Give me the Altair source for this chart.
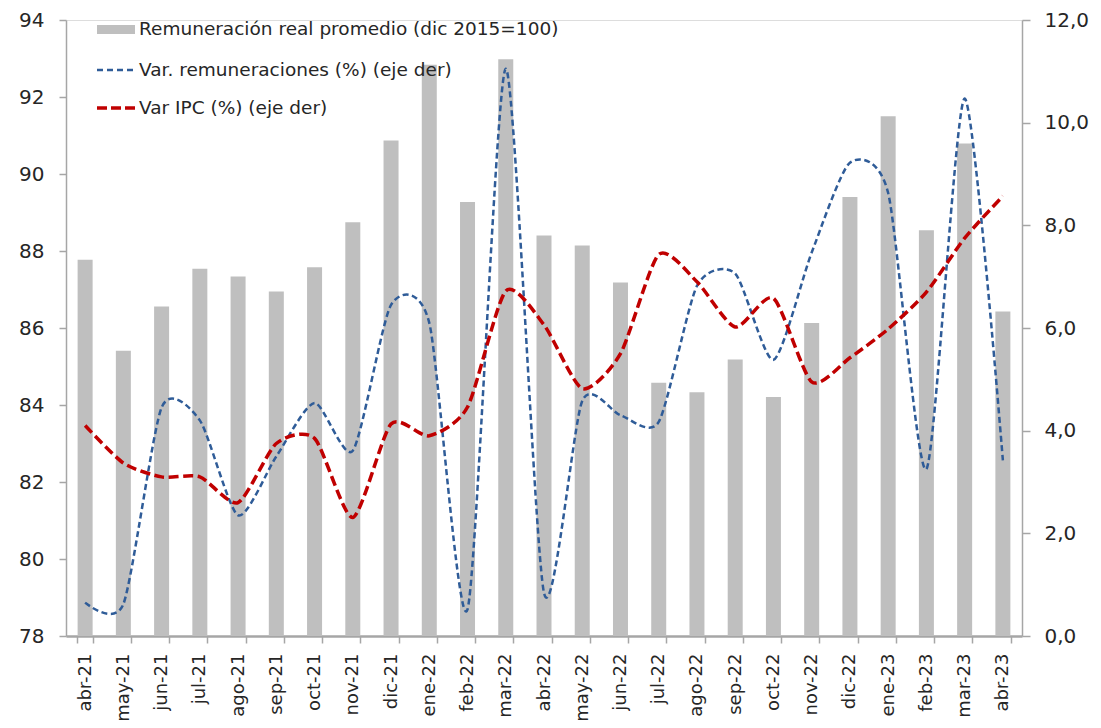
import altair as alt
import pandas as pd

categories = ["abr-21", "may-21", "jun-21", "jul-21", "ago-21", "sep-21", "oct-21", "nov-21",
              "dic-21", "ene-22", "feb-22", "mar-22", "abr-22", "may-22", "jun-22", "jul-22",
              "ago-22", "sep-22", "oct-22", "nov-22", "dic-22", "ene-23", "feb-23", "mar-23", "abr-23"]
remuneracion = [87.77, 85.41, 86.56, 87.54, 87.34, 86.95, 87.58, 88.75, 90.87, 92.84, 89.27, 92.98,
                88.40, 88.14, 87.18, 84.58, 84.33, 85.18, 84.21, 86.13, 89.40, 91.50, 88.54, 90.79, 86.43]
var_remuneraciones = [0.65, 0.62, 4.45, 4.20, 2.35, 3.50, 4.54, 3.61, 6.45, 6.10, 0.52, 11.05,
                      0.84, 4.58, 4.30, 4.17, 6.82, 7.06, 5.38, 7.47, 9.22, 8.63, 3.25, 10.47, 3.42]
var_ipc = [4.10, 3.37, 3.10, 3.10, 2.60, 3.75, 3.85, 2.31, 4.13, 3.90, 4.46, 6.72,
           6.06, 4.82, 5.50, 7.43, 6.90, 6.02, 6.58, 4.95, 5.42, 5.98, 6.70, 7.75, 8.57]
legend_labels = ["Remuneración real promedio (dic 2015=100)",
                 "Var. remuneraciones (%) (eje der)",
                 "Var IPC (%) (eje der)"]

df = pd.DataFrame({"mes": categories, "remu": remuneracion,
                   "vrem": var_remuneraciones, "ipc": var_ipc})

FONT = "DejaVu Sans"
TXT = "#262626"
GRAY_BAR = "#BFBFBF"
BLUE = "#2F5C98"
RED = "#C00000"
AXIS_GRAY = "#A6A6A6"

x_enc = alt.X("mes:N", sort=categories, title=None,
              scale=alt.Scale(paddingInner=0.6, paddingOuter=0.3),
              axis=alt.Axis(labelAngle=-90, labelFontSize=18, labelFont=FONT, labelColor=TXT,
                            tickBand="extent", tickSize=7, tickColor=AXIS_GRAY, tickWidth=1.5,
                            domainColor=AXIS_GRAY, domainWidth=2.5, labelPadding=10))

base = alt.Chart(df)

bars = base.mark_bar(color=GRAY_BAR, size=15).encode(
    x=x_enc,
    y=alt.Y("remu:Q", title=None,
            scale=alt.Scale(domain=[78, 94], zero=False, nice=False),
            axis=alt.Axis(values=list(range(78, 95, 2)), orient="left", labelFontSize=20,
                          labelFont=FONT, labelColor=TXT, tickSize=7, tickColor=AXIS_GRAY,
                          tickWidth=1.5, domainColor=AXIS_GRAY, domainWidth=1.5, grid=False,
                          labelPadding=15)),
    y2=alt.datum(78),
)

right_axis = alt.Axis(values=list(range(0, 13, 2)), orient="right", labelFontSize=20,
                      labelFont=FONT, labelColor=TXT, tickSize=8, tickColor=AXIS_GRAY,
                      tickWidth=1.5, domainColor=AXIS_GRAY, domainWidth=1.5, grid=False,
                      labelPadding=14,
                      labelExpr="replace(format(datum.value, '.1f'), '.', ',')")
yscale_r = alt.Scale(domain=[0, 12], nice=False)

line_rem = base.mark_line(color=BLUE, strokeWidth=2.5, strokeDash=[6, 3.5],
                          interpolate="cardinal", tension=0.3).encode(
    x=alt.X("mes:N", sort=categories),
    y=alt.Y("vrem:Q", title=None, scale=yscale_r, axis=right_axis),
)
line_ipc = base.mark_line(color=RED, strokeWidth=3.5, strokeDash=[10, 4.5],
                          interpolate="cardinal", tension=0.3).encode(
    x=alt.X("mes:N", sort=categories),
    y=alt.Y("ipc:Q", title=None, scale=yscale_r, axis=right_axis),
)

lines = alt.layer(line_rem, line_ipc)

# manual legend (positions are layout, in pixels from plot origin)
leg_rect = alt.Chart(alt.Data(values=[{"t": legend_labels[0]}])).mark_rect(color=GRAY_BAR).encode(
    x=alt.value(31), x2=alt.value(69), y=alt.value(5), y2=alt.value(14))
leg_blue = alt.Chart(alt.Data(values=[{"t": legend_labels[1]}])).mark_rule(
    color=BLUE, strokeWidth=2.5, strokeDash=[6, 4]).encode(
    x=alt.value(31), x2=alt.value(71), y=alt.value(50))
leg_red = alt.Chart(alt.Data(values=[{"t": legend_labels[2]}])).mark_rule(
    color=RED, strokeWidth=3.5, strokeDash=[10, 4]).encode(
    x=alt.value(31), x2=alt.value(71), y=alt.value(88))
leg_texts = []
for lab, yy in zip(legend_labels, [9, 50, 88]):
    leg_texts.append(
        alt.Chart(alt.Data(values=[{"t": lab}])).mark_text(
            align="left", baseline="middle", fontSize=18.5, font=FONT, color=TXT).encode(
            x=alt.value(73), y=alt.value(yy), text="t:N"))

chart = alt.layer(bars, lines, leg_rect, leg_blue, leg_red, *leg_texts).resolve_scale(
    y="independent"
).properties(
    width=956, height=616,
    autosize=alt.AutoSizeParams(type="none"),
    padding={"left": 58, "top": 12, "right": 70, "bottom": 92},
).configure_view(stroke="#BFBFBF", strokeWidth=1).configure(background="white")

chart.save("out.html", embed_options={"renderer": "svg", "actions": False})
